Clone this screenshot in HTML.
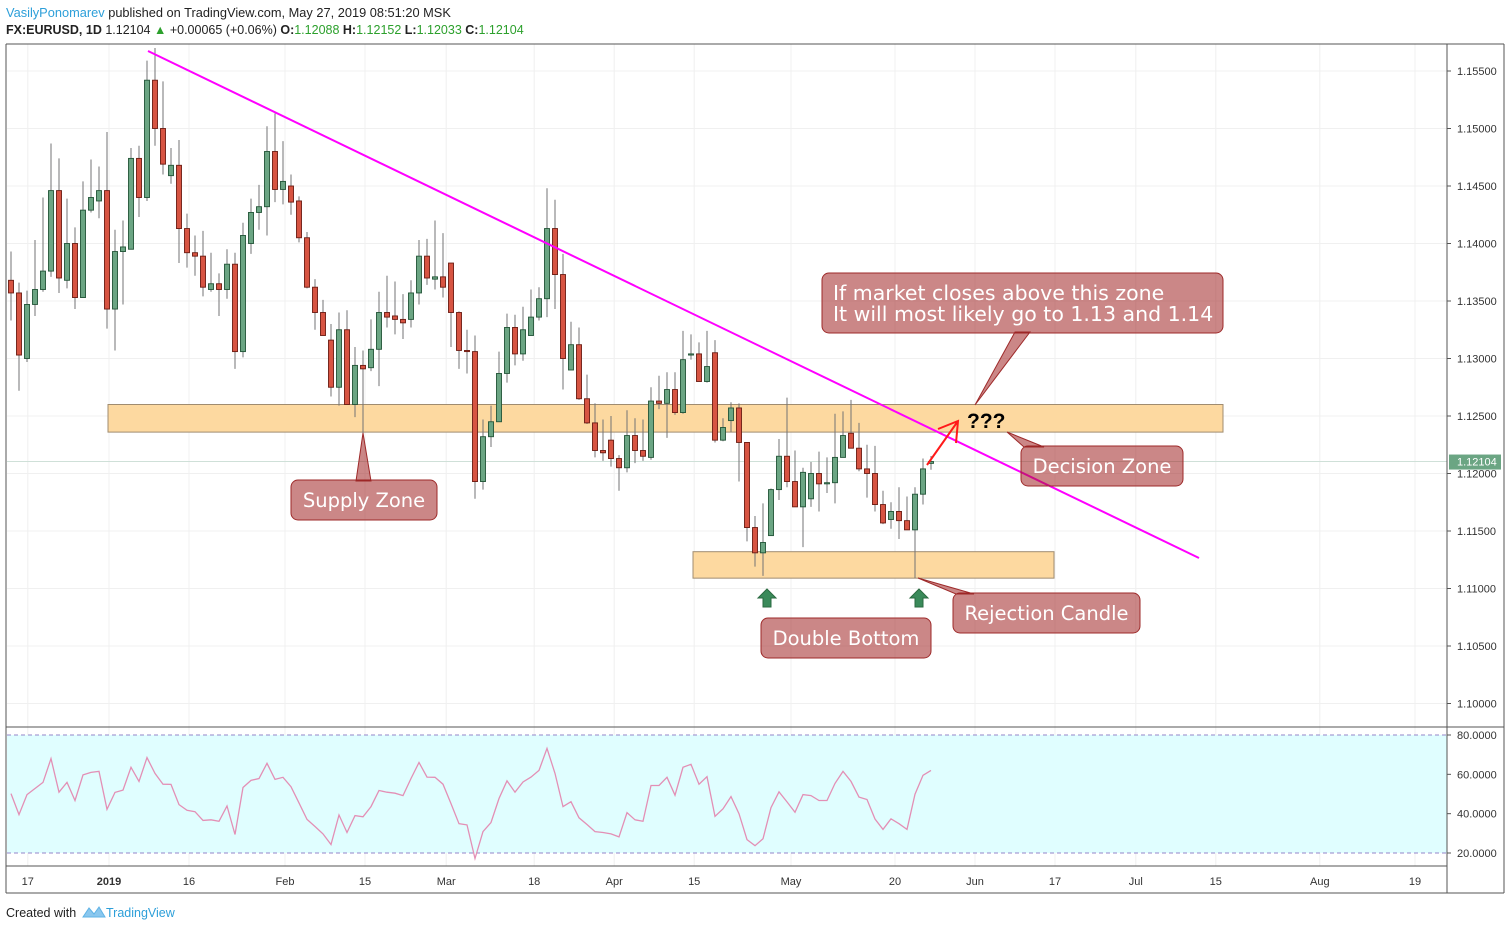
<!DOCTYPE html>
<html><head><meta charset="utf-8">
<style>
html,body{margin:0;padding:0;background:#fff;}
body{width:1511px;height:930px;overflow:hidden;font-family:"Liberation Sans",sans-serif;}
svg text{font-family:"Liberation Sans",sans-serif;}
svg text.co{font-family:"DejaVu Sans",sans-serif;}
</style></head>
<body>
<svg id="chart" width="1511" height="930" viewBox="0 0 1511 930" xmlns="http://www.w3.org/2000/svg">
  <rect x="0" y="0" width="1511" height="930" fill="#fff"/>
  <text x="6" y="17" font-size="12.8" fill="#222"><tspan fill="#2d9fd9">VasilyPonomarev</tspan> published on TradingView.com, May 27, 2019 08:51:20 MSK</text>
  <text x="6" y="34" font-size="12.5" fill="#222"><tspan font-weight="bold">FX:EURUSD, 1D</tspan> 1.12104 <tspan fill="#2ca02c">▲</tspan> +0.00065 (+0.06%) <tspan font-weight="bold">O:</tspan><tspan fill="#2ca02c">1.12088</tspan> <tspan font-weight="bold">H:</tspan><tspan fill="#2ca02c">1.12152</tspan> <tspan font-weight="bold">L:</tspan><tspan fill="#2ca02c">1.12033</tspan> <tspan font-weight="bold">C:</tspan><tspan fill="#2ca02c">1.12104</tspan></text>
  <g id="grid"></g>
  <rect x="7" y="735" width="1440" height="118" fill="#e0feff"/>
  <line x1="7" y1="735" x2="1447" y2="735" stroke="#9385c8" stroke-dasharray="4,3"/>
  <line x1="7" y1="853" x2="1447" y2="853" stroke="#9385c8" stroke-dasharray="4,3"/>
  <g id="zones"></g>
  <g id="candles"></g>
  <polyline id="rsi" fill="none" stroke="#e38fb5" stroke-width="1.3"/>
  <g id="ann"></g>
  <g id="axes"></g>
  <text x="6" y="917" font-size="12.5" fill="#222">Created with</text>
  <path d="M83 917 L89 908 L94 914 L99 907 L105 917 Z" fill="#8ac7ee" stroke="#5fb3e6"/>
  <text x="106" y="917" font-size="12.5" fill="#2d9fd9">TradingView</text>
</svg>
<script>
const opens=[1.1368,1.1357,1.1300,1.1347,1.1360,1.1376,1.1446,1.1368,1.1400,1.1353,1.1429,1.1437,1.1446,1.1343,1.1393,1.1395,1.1474,1.1440,1.1542,1.1500,1.1459,1.1468,1.1413,1.1392,1.1389,1.1360,1.1365,1.1360,1.1382,1.1306,1.1400,1.1427,1.1432,1.1480,1.1447,1.1450,1.1437,1.1405,1.1362,1.1340,1.1316,1.1275,1.1325,1.1260,1.1294,1.1292,1.1308,1.1340,1.1337,1.1334,1.1334,1.1357,1.1389,1.1369,1.1371,1.1383,1.1340,1.1307,1.1306,1.1193,1.1232,1.1245,1.1287,1.1327,1.1304,1.1320,1.1336,1.1352,1.1413,1.1373,1.1290,1.1312,1.1265,1.1244,1.1220,1.1229,1.1213,1.1205,1.1233,1.1220,1.1214,1.1263,1.1261,1.1273,1.1253,1.1303,1.1304,1.1280,1.1305,1.1229,1.1246,1.1257,1.1227,1.1153,1.1131,1.1146,1.1186,1.1215,1.1193,1.1171,1.1178,1.1200,1.1191,1.1192,1.1214,1.1235,1.1222,1.1204,1.1200,1.1173,1.1160,1.1167,1.1159,1.1151,1.1182,1.12088];
const highs=[1.1393,1.1366,1.1359,1.1403,1.1440,1.1487,1.1474,1.1439,1.1414,1.1454,1.1473,1.1467,1.1497,1.1412,1.1420,1.1483,1.1485,1.1559,1.1570,1.1541,1.1483,1.1490,1.1426,1.1407,1.1411,1.1392,1.1374,1.1395,1.1392,1.1418,1.1439,1.1451,1.1502,1.1513,1.1489,1.1460,1.1441,1.1410,1.1369,1.1351,1.1330,1.1340,1.1342,1.1310,1.1307,1.1334,1.1358,1.1372,1.1367,1.1356,1.1368,1.1403,1.1404,1.1420,1.1409,1.1383,1.1341,1.1325,1.1320,1.1247,1.1259,1.1306,1.1339,1.1338,1.1345,1.1360,1.1362,1.1448,1.1438,1.1391,1.1332,1.1327,1.1286,1.1261,1.1247,1.1250,1.1216,1.1255,1.1248,1.1247,1.1275,1.1285,1.1288,1.1288,1.1324,1.1321,1.1314,1.1324,1.1316,1.1248,1.1262,1.1261,1.1227,1.1163,1.1174,1.1187,1.1230,1.1266,1.1220,1.1205,1.1210,1.1219,1.1214,1.1252,1.1254,1.1264,1.1244,1.1225,1.1224,1.1185,1.1175,1.1188,1.1180,1.1188,1.1213,1.12152];
const lows=[1.1333,1.1272,1.1297,1.1337,1.1358,1.1371,1.1357,1.1361,1.1343,1.1353,1.1427,1.1422,1.1326,1.1307,1.1347,1.1395,1.1423,1.1437,1.1485,1.1460,1.1452,1.1383,1.1379,1.1372,1.1354,1.1358,1.1337,1.1352,1.1291,1.1301,1.1391,1.1412,1.1407,1.1436,1.1434,1.1425,1.1401,1.1361,1.1325,1.1320,1.1267,1.1259,1.1260,1.1249,1.1235,1.1289,1.1276,1.1327,1.1321,1.1317,1.1327,1.1347,1.1364,1.1360,1.1353,1.1310,1.1291,1.1287,1.1178,1.1186,1.1223,1.1245,1.1279,1.1294,1.1298,1.1320,1.1333,1.1336,1.1343,1.1273,1.1290,1.1264,1.1243,1.1214,1.1211,1.1206,1.1185,1.1201,1.1209,1.1211,1.1212,1.1256,1.1231,1.1251,1.1252,1.1299,1.1280,1.1279,1.1227,1.1228,1.1236,1.1193,1.1141,1.1119,1.1111,1.1146,1.1177,1.1188,1.1171,1.1136,1.1171,1.1167,1.1183,1.1174,1.1214,1.1222,1.1202,1.1179,1.1167,1.1156,1.1152,1.1143,1.1151,1.1109,1.1173,1.12033];
const closes=[1.1357,1.1303,1.1347,1.1360,1.1376,1.1446,1.1370,1.1400,1.1353,1.1429,1.1440,1.1446,1.1343,1.1393,1.1397,1.1474,1.1440,1.1542,1.1500,1.1469,1.1468,1.1413,1.1392,1.1389,1.1362,1.1365,1.1360,1.1382,1.1306,1.1407,1.1427,1.1432,1.1480,1.1447,1.1454,1.1436,1.1405,1.1362,1.1340,1.1320,1.1275,1.1325,1.1260,1.1294,1.1291,1.1308,1.1340,1.1336,1.1334,1.1331,1.1357,1.1389,1.1370,1.1371,1.1362,1.1340,1.1307,1.1306,1.1193,1.1232,1.1245,1.1287,1.1327,1.1304,1.1325,1.1336,1.1352,1.1413,1.1373,1.1300,1.1312,1.1265,1.1244,1.1220,1.1218,1.1213,1.1205,1.1233,1.1220,1.1215,1.1263,1.1261,1.1273,1.1253,1.1299,1.1304,1.1280,1.1293,1.1229,1.1240,1.1257,1.1227,1.1153,1.1131,1.1140,1.1186,1.1215,1.1193,1.1171,1.1201,1.1200,1.1191,1.1192,1.1214,1.1233,1.1222,1.1204,1.1200,1.1173,1.1157,1.1167,1.1159,1.1151,1.1182,1.1204,1.12104];
const rsiValues=[50.2,39.5,49.7,52.8,55.9,68.0,50.9,55.9,46.7,59.7,61.0,61.5,42.2,50.8,52.0,63.6,56.4,68.5,60.5,55.0,54.9,44.6,41.7,41.0,36.6,36.9,36.1,43.9,29.4,53.3,56.9,57.9,65.6,57.4,58.5,53.7,45.5,37.1,33.5,29.7,24.3,39.3,30.4,39.0,38.4,43.6,51.8,50.9,50.4,49.2,57.9,66.0,58.6,58.5,55.0,45.1,34.9,34.3,17.2,30.9,35.5,47.7,56.7,50.9,56.1,58.6,62.0,73.2,60.5,43.6,46.1,37.9,34.5,30.9,30.4,29.7,28.2,40.5,36.9,36.1,54.3,54.3,58.5,49.4,63.6,65.1,55.0,58.8,38.6,42.5,48.7,40.0,26.8,23.7,27.2,43.1,51.1,46.0,40.7,49.7,49.2,46.7,46.7,55.4,61.5,56.4,48.4,47.2,37.3,32.0,37.4,34.9,32.0,49.9,59.5,62.0];
const priceTicks=[1.155,1.150,1.145,1.140,1.135,1.130,1.125,1.120,1.115,1.110,1.105,1.100];
const rsiTicks=[80,60,40,20];
const dateLabels=["17","2019","16","Feb","15","Mar","18","Apr","15","May","20","Jun","17","Jul","15","Aug","19"];
const dateIndex=[2.1,12.25,22.25,34.25,44.25,54.4,65.4,75.4,85.4,97.5,110.5,120.5,130.5,140.6,150.6,163.6,175.5];
const lastPrice=1.12104;

const NS="http://www.w3.org/2000/svg";
const xOf=i=>11+8*i;
const yOf=p=>71+(1.155-p)/0.005*57.5;
const rY=v=>735+(80-v)/60*118;
function mk(tag,attrs,parent){const e=document.createElementNS(NS,tag);for(const k in attrs)e.setAttribute(k,attrs[k]);parent.appendChild(e);return e;}
const grid=document.getElementById('grid'),axes=document.getElementById('axes'),cg=document.getElementById('candles');

priceTicks.forEach(p=>{const y=yOf(p);
  const g=mk('line',{x1:7,y1:y,x2:1447,y2:y,stroke:'#f0f0f0'},grid);
  
  const t=mk('text',{x:1457,y:y+4,'font-size':11,fill:'#333'},axes);t.textContent=p.toFixed(5);
  
  mk('line',{x1:1447,y1:y,x2:1451,y2:y,stroke:'#555'},axes);
});
rsiTicks.forEach(v=>{const y=rY(v);
  if(v===60||v===40){const g=mk('line',{x1:7,y1:y,x2:1447,y2:y,stroke:'#dff0f2'},grid);}
  const t=mk('text',{x:1457,y:y+4,'font-size':11,fill:'#333'},axes);t.textContent=v.toFixed(4);
  
  mk('line',{x1:1447,y1:y,x2:1451,y2:y,stroke:'#555'},axes);
});
dateLabels.forEach((d,k)=>{const x=xOf(dateIndex[k]);
  const g=mk('line',{x1:x,y1:44,x2:x,y2:866,stroke:'#f0f0f0'},grid);
  
  const t=mk('text',{x:x,y:885,'font-size':11,fill:'#333','text-anchor':'middle','font-weight':d==='2019'?'bold':'normal'},axes);t.textContent=d;
  
});
[[6,44,1504,44],[6,44,6,893],[1504,44,1504,893],[6,893,1504,893],[1447,44,1447,893],[6,727,1504,727],[6,866,1447,866]].forEach(a=>{
  const l=mk('line',{x1:a[0],y1:a[1],x2:a[2],y2:a[3],stroke:'#555','stroke-width':1},axes);
  });

const zg=document.getElementById('zones');
const z1=mk('rect',{x:108,y:yOf(1.1260),width:1115,height:yOf(1.1236)-yOf(1.1260),fill:'#fdd9a0',stroke:'#a08c70'},zg);

const z2=mk('rect',{x:693,y:yOf(1.1132),width:361,height:yOf(1.1109)-yOf(1.1132),fill:'#fdd9a0',stroke:'#a08c70'},zg);

const lp=mk('line',{x1:7,y1:yOf(lastPrice),x2:1447,y2:yOf(lastPrice),stroke:'#cfe0d8'},zg);


opens.forEach((o,i)=>{const c=closes[i],x=xOf(i),up=c>=o;
  const w=mk('line',{x1:x,y1:yOf(highs[i]),x2:x,y2:yOf(lows[i]),stroke:'#737375'},cg);
  
  const top=yOf(Math.max(o,c)),h=Math.max(1,yOf(Math.min(o,c))-top);
  const b=mk('rect',{x:x-2.5,y:top,width:5,height:h,fill:up?'#6ba583':'#d75442',stroke:up?'#225437':'#6b1b12','stroke-width':0.9},cg);
  
});
document.getElementById('rsi').setAttribute('points',rsiValues.map((v,i)=>xOf(i)+','+rY(v).toFixed(1)).join(' '));

const lpl=mk('rect',{x:1449,y:yOf(lastPrice)-7,width:52,height:15,fill:'#6ba583'},axes);

const lpt=mk('text',{x:1457,y:yOf(lastPrice)+4,'font-size':11,fill:'#fff'},axes);lpt.textContent=lastPrice.toFixed(5);


const ag=document.getElementById('ann');
const tl=mk('line',{x1:148,y1:51,x2:1199,y2:558,stroke:'#ff00ff','stroke-width':2},ag);

function callout(name,x,y,w,h,ptr,lines,fs){
  const g=mk('g',{},ag);
  mk('rect',{x:x,y:y,width:w,height:h,rx:7,fill:'rgba(155,25,25,0.52)',stroke:'#9e2a2a'},g);
  if(ptr)mk('polygon',{points:ptr,fill:'rgba(155,25,25,0.52)',stroke:'#9e2a2a'},g);
  lines.forEach((s,k)=>{const multi=lines.length>1;
    const t=mk('text',{class:'co',x:multi?x+11:x+w/2,y:multi?y+27+k*21:y+h/2+7,'font-size':fs,fill:'#fff','text-anchor':multi?'start':'middle'},g);
    t.textContent=s;});
}
callout('supply-zone-callout',291,480,146,40,'356,481 371,481 363,433',['Supply Zone'],19.5);
callout('decision-zone-callout',1021,446,162,40,'1024,447 1044,447 1007,432',['Decision Zone'],19.5);
callout('rejection-candle-callout',953,593,187,40,'956,594 974,594 918,578',['Rejection Candle'],19.5);
callout('double-bottom-callout',761,618,170,40,null,['Double Bottom'],19.5);
callout('forecast-callout',822,273,401,60,'1015,332 1030,332 975,405',['If market closes above this zone','It will most likely go to 1.13 and 1.14'],20.5);
[767,919].forEach(x=>{const a=mk('polygon',{points:`${x},589 ${x+9},598 ${x+4},598 ${x+4},607 ${x-4},607 ${x-4},598 ${x-9},598`,fill:'#3a8a5a',stroke:'#2a6a40'},ag);
  });
const ra=mk('path',{d:'M927,465 L958,421 M938,429 L958,421 L956,443',fill:'none',stroke:'#ff1a1a','stroke-width':2},ag);

const q=mk('text',{x:967,y:428,'font-size':21,'font-weight':'bold',fill:'#000'},ag);q.textContent='???';

</script>
</body></html>
